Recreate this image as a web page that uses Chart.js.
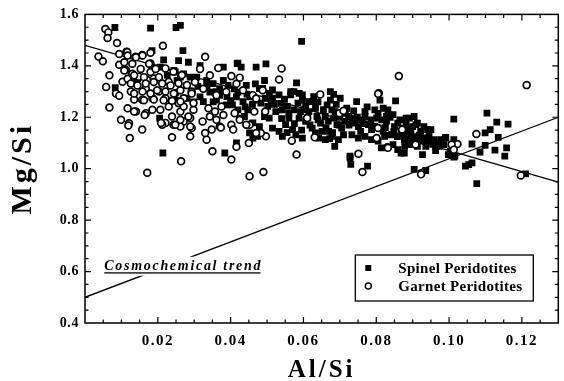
<!DOCTYPE html>
<html><head><meta charset="utf-8">
<style>html,body{margin:0;padding:0;background:#fff;}#wrap{width:564px;height:381px;}</style>
<script src="https://cdn.jsdelivr.net/npm/chart.js@4.4.1/dist/chart.umd.min.js"></script>
</head><body><div id="wrap"><canvas id="c" width="564" height="381"></canvas></div>
<script>
// ---- data (Al/Si, Mg/Si) ----
const spinel = [
[0.0082,1.549],[0.018,1.547],[0.025,1.549],[0.0262,1.557],[0.0595,1.495],[0.0184,1.459],[0.0216,1.423],[0.0214,1.061],[0.0083,1.315],[0.0205,1.197],[0.0384,1.061],[0.0144,1.35],[0.0207,1.395],[0.0226,1.363],[0.0244,1.382],[0.0269,1.459],[0.0257,1.42],[0.0284,1.414],[0.0316,1.401],[0.038,1.395],[0.042,1.41],[0.0429,1.395],[0.047,1.395],[0.0497,1.408],[0.0468,1.33],[0.0262,1.356],[0.0418,1.409],[0.0581,1.334],[0.0515,1.306],[0.0565,1.3],[0.0597,1.287],[0.0615,1.261],[0.0511,1.261],
[0.0248,1.376],[0.0271,1.369],[0.0289,1.356],[0.0253,1.343],[0.028,1.324],[0.0307,1.356],[0.0334,1.343],[0.0352,1.331],[0.038,1.343],[0.0393,1.324],[0.037,1.311],[0.0343,1.298],[0.0316,1.279],[0.0271,1.273],[0.0248,1.266],[0.0298,1.26],[0.0352,1.26],[0.0416,1.279],[0.0443,1.324],[0.0452,1.279],[0.0479,1.311],[0.0493,1.343],[0.042,1.298],
[0.031,1.32],[0.0335,1.32],[0.036,1.3],[0.039,1.28],[0.041,1.31],[0.0445,1.29],[0.046,1.25],[0.044,1.24],[0.040,1.265],[0.037,1.285],
[0.0447,1.229],[0.0461,1.178],[0.0461,1.119],[0.0474,1.126],[0.042,1.229],[0.0405,1.248],[0.0434,1.261],[0.0483,1.255],[0.028,1.274],[0.0325,1.261],[0.0361,1.267],[0.0388,1.248],[0.047,1.267],[0.0425,1.197],[0.0438,1.203],[0.0493,1.203],[0.0479,1.164],[0.0452,1.139],[0.0416,1.1],
[0.0488,1.312],[0.0506,1.293],[0.0515,1.274],[0.0533,1.287],[0.0538,1.254],[0.0542,1.229],[0.0556,1.242],[0.0565,1.287],[0.0574,1.3],[0.0588,1.293],[0.0597,1.267],[0.0606,1.242],[0.0615,1.222],[0.0624,1.261],[0.0633,1.235],[0.0637,1.203],[0.0647,1.177],[0.0651,1.145],[0.066,1.203],[0.0665,1.248],[0.0674,1.267],[0.0678,1.229],[0.0683,1.197],[0.0692,1.171],[0.0705,1.158],[0.0714,1.184],[0.0724,1.203],[0.0733,1.197],[0.0742,1.177],[0.0751,1.164],[0.076,1.19],[0.0769,1.203],[0.0778,1.171],[0.0787,1.152],[0.0796,1.229],[0.0801,1.197],[0.081,1.158],[0.0819,1.145],[0.0828,1.184],[0.0832,1.229],[0.0841,1.132],[0.085,1.164],[0.0859,1.177],[0.0868,1.139],[0.0878,1.113],[0.0887,1.152],[0.0891,1.197],[0.0896,1.1],
[0.0506,1.197],[0.0515,1.158],[0.0524,1.222],[0.0533,1.145],[0.0542,1.126],[0.0551,1.171],[0.056,1.197],[0.057,1.152],[0.0579,1.132],[0.0588,1.197],[0.0606,1.184],[0.0624,1.158],[0.0633,1.139],[0.0642,1.119],[0.066,1.113],[0.0669,1.145],[0.0678,1.126],[0.0696,1.113],[0.071,1.132],[0.0733,1.132],[0.0751,1.119],[0.0769,1.126],[0.0787,1.113],[0.0805,1.107],[0.0814,1.081],[0.0823,1.126],[0.0846,1.094],[0.0859,1.074],[0.0868,1.061],[0.0878,1.087],[0.0495,1.274],[0.0502,1.242],[0.0574,1.229],[0.0592,1.222],
[0.052,1.25],[0.0548,1.27],[0.056,1.215],[0.0585,1.255],[0.06,1.23],[0.0612,1.2],[0.0628,1.28],[0.064,1.26],[0.0655,1.23],[0.0668,1.185],[0.069,1.25],[0.07,1.2],[0.0715,1.215],[0.0725,1.17],[0.0738,1.225],[0.0748,1.2],[0.0757,1.145],[0.0765,1.175],[0.0775,1.24],[0.0785,1.19],[0.0795,1.165],[0.0805,1.215],[0.0815,1.19],[0.0825,1.16],[0.0838,1.2],[0.0848,1.145],[0.0858,1.125],[0.0865,1.19],[0.0875,1.135],[0.0895,1.14],[0.0905,1.125],[0.0918,1.13],[0.093,1.12],[0.0945,1.13],[0.0955,1.095],[0.0975,1.1],[0.054,1.195],[0.0555,1.14],[0.0575,1.175],[0.0595,1.15],[0.0618,1.17],[0.064,1.19],[0.0662,1.16],[0.068,1.14],[0.0698,1.17],
[0.0683,1.289],[0.0853,1.264],[0.081,1.267],[0.0686,1.087],[0.0728,1.042],[0.073,1.017],[0.0776,1.01],[0.0597,1.119],[0.0672,1.117],[0.0728,1.049],
[0.0674,1.3],[0.0701,1.274],[0.0719,1.235],[0.0746,1.261],[0.0769,1.222],[0.0687,1.222],
[0.0882,1.197],[0.0913,1.177],[0.0931,1.164],[0.095,1.152],[0.0886,1.145],[0.0895,1.126],[0.0877,1.113],[0.0909,1.119],[0.0922,1.107],[0.0945,1.107],[0.0959,1.113],[0.0891,1.094],[0.0913,1.087],[0.0936,1.087],[0.0972,1.087],[0.0986,1.094],[0.0877,1.061],[0.0927,1.055],[0.0963,1.07],[0.099,1.122],[0.1013,1.113],[0.0882,1.177],[0.09,1.164],[0.0873,1.158],[0.0904,1.203],[0.0922,1.145],[0.0977,1.113],[0.1004,1.068],[0.1013,1.045],[0.1045,1.01],[0.1054,1.016],[0.1063,1.023],[0.1076,0.942],[0.121,0.98],[0.0904,0.997],[0.0936,0.993],[0.1013,1.193],[0.1104,1.216],[0.1131,1.181],[0.1162,1.173],[0.1113,1.152],[0.1099,1.139],[0.1135,1.122],[0.1063,1.096],[0.1099,1.091],[0.1158,1.081],[0.1126,1.072],[0.1085,1.065],[0.1153,1.049],
[0.0819,1.235],[0.0846,1.21],[0.0828,1.203],[0.0909,1.171],[0.0887,1.158],[0.0941,1.152],[0.0991,1.119],[0.0964,1.087],[0.0936,1.107],[0.0998,1.055],[0.1016,1.049]
];
const garnet = [
[0.0056,1.543],[0.0064,1.53],[0.0062,1.508],[0.0088,1.489],[0.0214,1.478],[0.0114,1.455],[0.0037,1.436],[0.0049,1.418],[0.0067,1.363],[0.0058,1.318],[0.0085,1.292],[0.0094,1.284],[0.0135,1.269],[0.0067,1.238],[0.0099,1.19],[0.0121,1.177],[0.0119,1.168],[0.0123,1.119],[0.0157,1.152],[0.0171,0.984],[0.0264,1.029],[0.0239,1.122],[0.0289,1.126],[0.0334,1.113],[0.035,1.068],[0.0402,1.036],[0.0416,1.085],[0.0452,0.971],[0.049,0.987],[0.045,1.1],[0.033,1.435],[0.054,1.39],[0.0533,1.347],[0.0646,1.289],[0.0581,1.055],[0.0762,0.987],[0.0751,1.058],[0.0862,1.36],[0.1213,1.325],[0.0807,1.293],[0.1075,1.135],[0.1197,0.974],[0.0923,0.978],[0.1023,1.096],[0.1007,1.094],[0.1013,1.074],[0.083,1.083],[0.0699,1.216],[0.071,1.225],[0.0495,1.222],[0.0497,1.126],[0.0568,1.109],[0.0631,1.122],[0.061,1.197],[0.0832,1.081],[0.0805,1.291],[0.0805,1.158],[0.0801,1.119],[0.0908,1.094],[0.0871,1.152],
[0.0116,1.454],[0.0139,1.435],[0.0157,1.442],[0.018,1.451],[0.0094,1.404],[0.0112,1.385],[0.013,1.369],[0.0103,1.338],[0.0126,1.338],[0.0148,1.358],[0.0171,1.345],[0.0189,1.351],[0.0167,1.312],[0.0126,1.3],[0.0157,1.268],[0.0185,1.274],[0.0203,1.3],[0.0221,1.274],[0.0117,1.235],[0.014,1.222],[0.0167,1.216],[0.0185,1.229],[0.0207,1.229],[0.023,1.242],[0.0239,1.203],[0.0262,1.222],[0.0271,1.184],[0.0289,1.197],[0.0293,1.158],[0.0262,1.164],[0.0221,1.178],[0.0212,1.171],[0.0221,1.39],[0.0243,1.377],[0.0266,1.364],[0.023,1.338],[0.0257,1.332],[0.028,1.325],[0.0293,1.3],[0.0248,1.293],[0.0271,1.274],[0.0257,1.255],[0.0194,1.39],[0.018,1.409],
[0.0366,1.392],[0.0316,1.388],[0.0343,1.363],[0.0402,1.36],[0.0425,1.354],[0.0416,1.33],[0.0488,1.305],[0.0302,1.337],[0.0262,1.305],[0.0293,1.292],[0.0325,1.311],[0.0361,1.286],[0.0388,1.299],[0.0434,1.305],[0.0461,1.286],[0.047,1.273],
[0.0135,1.222],[0.0164,1.209],[0.0209,1.178],[0.0243,1.171],
[0.0262,1.19],[0.0289,1.164],[0.033,1.139],[0.0348,1.152],[0.037,1.164],[0.0402,1.171],[0.0407,1.152],[0.0452,1.171],[0.0483,1.139],[0.0465,1.222],[0.0323,1.184],[0.0298,1.229],[0.0271,1.242],[0.0343,1.203],[0.038,1.209],[0.0262,1.261],[0.0298,1.255],[0.0339,1.235],[0.0357,1.222],[0.0375,1.242],[0.0284,1.203],[0.0248,1.171],[0.0361,1.19],
[0.0094,1.446],[0.0117,1.44],[0.014,1.433],[0.0158,1.44],[0.0108,1.414],[0.013,1.408],[0.0153,1.388],[0.0176,1.408],[0.0108,1.382],[0.0117,1.35],[0.0135,1.363],[0.0162,1.356],[0.018,1.376],[0.0194,1.388],[0.0203,1.356],[0.0126,1.331],[0.0144,1.324],[0.0167,1.331],[0.0189,1.337],[0.0212,1.331],[0.0135,1.292],[0.0158,1.3],[0.018,1.292],[0.0198,1.305],[0.0221,1.3],[0.0235,1.324],[0.0244,1.292],[0.0162,1.266],[0.0189,1.269],[0.0216,1.266],[0.0239,1.264],
[0.0443,1.171],[0.047,1.139],[0.0411,1.216],[0.0425,1.19],[0.0373,1.16]
];
const mantleTrend = [[0, 1.48], [0.13, 0.948]];
const cosmoTrend = [[0, 0.5], [0.13, 1.2]];
const xTickValues = [0.02, 0.04, 0.06, 0.08, 0.10, 0.12];
const yTickValues = [0.4, 0.6, 0.8, 1.0, 1.2, 1.4, 1.6];
const xMinorStep = 0.005, yMinorStep = 0.05;
const xRange = [0, 0.13], yRange = [0.4, 1.6];
const cosmoLabel = {text: 'Cosmochemical trend', x: 0.0053, y: 0.607};
const SERIF = '"Liberation Serif", "Times New Roman", serif';

function spaced(scale, method, spacing) {
  if (scale['__w_' + method]) return;
  const orig = scale[method];
  scale[method] = function (...a) {
    const ctx = this.ctx; ctx.save(); ctx.letterSpacing = spacing;
    const r = orig.apply(this, a); ctx.restore(); return r;
  };
  scale['__w_' + method] = true;
}

const spacingPlugin = {
  id: 'spacing',
  beforeDraw(chart) {
    spaced(chart.scales.x, 'drawLabels', '1.5px');
    spaced(chart.scales.x, 'drawTitle', '3px');
    spaced(chart.scales.y, 'drawLabels', '0.6px');
    spaced(chart.scales.y, 'drawTitle', '3px');
  }
};

const framePlugin = {
  id: 'frame',
  afterDatasetsDraw(chart) {
    const {ctx, chartArea: a, scales: {x, y}} = chart;
    ctx.save();
    const px = x.getPixelForValue(cosmoLabel.x), py = y.getPixelForValue(cosmoLabel.y);
    ctx.font = 'italic bold 14px ' + SERIF;
    ctx.letterSpacing = '1.7px';
    const w = ctx.measureText(cosmoLabel.text).width;
    ctx.fillStyle = '#fff';
    ctx.fillRect(px - 2, py - 13, w + 2, 19);
    ctx.fillStyle = '#000';
    ctx.textBaseline = 'alphabetic';
    ctx.textAlign = 'left';
    ctx.fillText(cosmoLabel.text, px, py);
    ctx.fillRect(px, py + 2.5, w - 1.7, 1.3);
    ctx.letterSpacing = '0px';

    const lx = a.right - 203, ly = a.bottom - 68, lw = 178, lh = 46;
    ctx.fillStyle = '#fff';
    ctx.fillRect(lx, ly, lw, lh);
    ctx.strokeStyle = '#000'; ctx.lineWidth = 1.3;
    ctx.strokeRect(lx, ly, lw, lh);
    const items = [chart.data.datasets[1], chart.data.datasets[0]];
    ctx.font = 'bold 15px ' + SERIF;
    ctx.textBaseline = 'middle';
    ctx.letterSpacing = '0.3px';
    items.forEach((ds, i) => {
      const cy = ly + 13 + i * 18, cx = lx + 13;
      ctx.fillStyle = '#000';
      if (ds.pointStyle === 'rect') {
        ctx.fillRect(cx - 3, cy - 3, 6, 6);
      } else {
        ctx.beginPath(); ctx.arc(cx, cy, 3, 0, Math.PI * 2);
        ctx.fillStyle = '#fff'; ctx.fill();
        ctx.lineWidth = 1.4; ctx.strokeStyle = '#000'; ctx.stroke();
      }
      ctx.fillStyle = '#000';
      ctx.fillText(ds.label, lx + 43, cy + 1);
    });
    ctx.letterSpacing = '0px';

    ctx.strokeStyle = '#000';
    ctx.lineWidth = 1.5;
    ctx.strokeRect(a.left, a.top, a.right - a.left, a.bottom - a.top);
    ctx.lineWidth = 1.2;
    ctx.beginPath();
    const nx = Math.round((xRange[1] - xRange[0]) / xMinorStep);
    for (let i = 1; i < nx; i++) {
      const v = xRange[0] + i * xMinorStep;
      const major = xTickValues.some(t => Math.abs(t - v) < 1e-9);
      const L = major ? 6 : 3.5;
      const p = x.getPixelForValue(v);
      ctx.moveTo(p, a.bottom); ctx.lineTo(p, a.bottom - L);
      ctx.moveTo(p, a.top); ctx.lineTo(p, a.top + L);
    }
    const ny = Math.round((yRange[1] - yRange[0]) / yMinorStep);
    for (let i = 1; i < ny; i++) {
      const v = yRange[0] + i * yMinorStep;
      const major = yTickValues.some(t => Math.abs(t - v) < 1e-9);
      const L = major ? 6 : 3.5;
      const p = y.getPixelForValue(v);
      ctx.moveTo(a.left, p); ctx.lineTo(a.left + L, p);
      ctx.moveTo(a.right, p); ctx.lineTo(a.right - L, p);
    }
    ctx.stroke();
    ctx.restore();
  }
};

new Chart(document.getElementById('c'), {
  type: 'scatter',
  data: {
    datasets: [
      {label: 'Garnet Peridotites', data: garnet, pointStyle: 'circle', pointRadius: 3.4,
       pointBackgroundColor: '#fff', pointBorderColor: '#000', pointBorderWidth: 1.7, order: 0},
      {label: 'Spinel Peridotites', data: spinel, pointStyle: 'rect', pointRadius: 4.8,
       pointBackgroundColor: '#000', pointBorderColor: '#000', pointBorderWidth: 0, order: 1},
      {label: 'Mantle trend', data: mantleTrend, showLine: true, borderColor: '#000', borderWidth: 1.3,
       pointRadius: 0, fill: false, order: 2},
      {label: 'Cosmochemical trend', data: cosmoTrend, showLine: true, borderColor: '#000', borderWidth: 1.3,
       pointRadius: 0, fill: false, order: 3}
    ]
  },
  options: {
    responsive: false, animation: false, events: [],
    layout: {padding: {top: 12, right: 1, left: 0, bottom: 0}},
    plugins: {legend: {display: false}, tooltip: {enabled: false}},
    scales: {
      x: {
        type: 'linear', min: xRange[0], max: xRange[1],
        afterFit(s) { s.height = 58; },
        afterBuildTicks(s) { s.ticks = xTickValues.map(v => ({value: v})); },
        grid: {display: false, drawTicks: false}, border: {display: false},
        ticks: {padding: 9, color: '#000', autoSkip: false, maxRotation: 0,
                font: {family: SERIF, size: 15, weight: 'bold'},
                callback: v => Number(v).toFixed(2)},
        title: {display: true, text: 'Al/Si', color: '#000', padding: 0,
                font: {family: SERIF, size: 25, weight: 'bold', lineHeight: 0.85}}
      },
      y: {
        type: 'linear', min: yRange[0], max: yRange[1],
        afterFit(s) { s.width = 85; },
        afterBuildTicks(s) { s.ticks = yTickValues.map(v => ({value: v})); },
        grid: {display: false, drawTicks: false}, border: {display: false},
        ticks: {padding: 6, color: '#000', autoSkip: false,
                font: {family: SERIF, size: 14, weight: 'bold'},
                callback: v => Number(v).toFixed(1)},
        title: {display: true, text: 'Mg/Si', color: '#000', padding: {top: 5, bottom: 0},
                font: {family: SERIF, size: 30, weight: 'bold', lineHeight: 1.2}}
      }
    }
  },
  plugins: [spacingPlugin, framePlugin]
});
</script>
</body></html>
